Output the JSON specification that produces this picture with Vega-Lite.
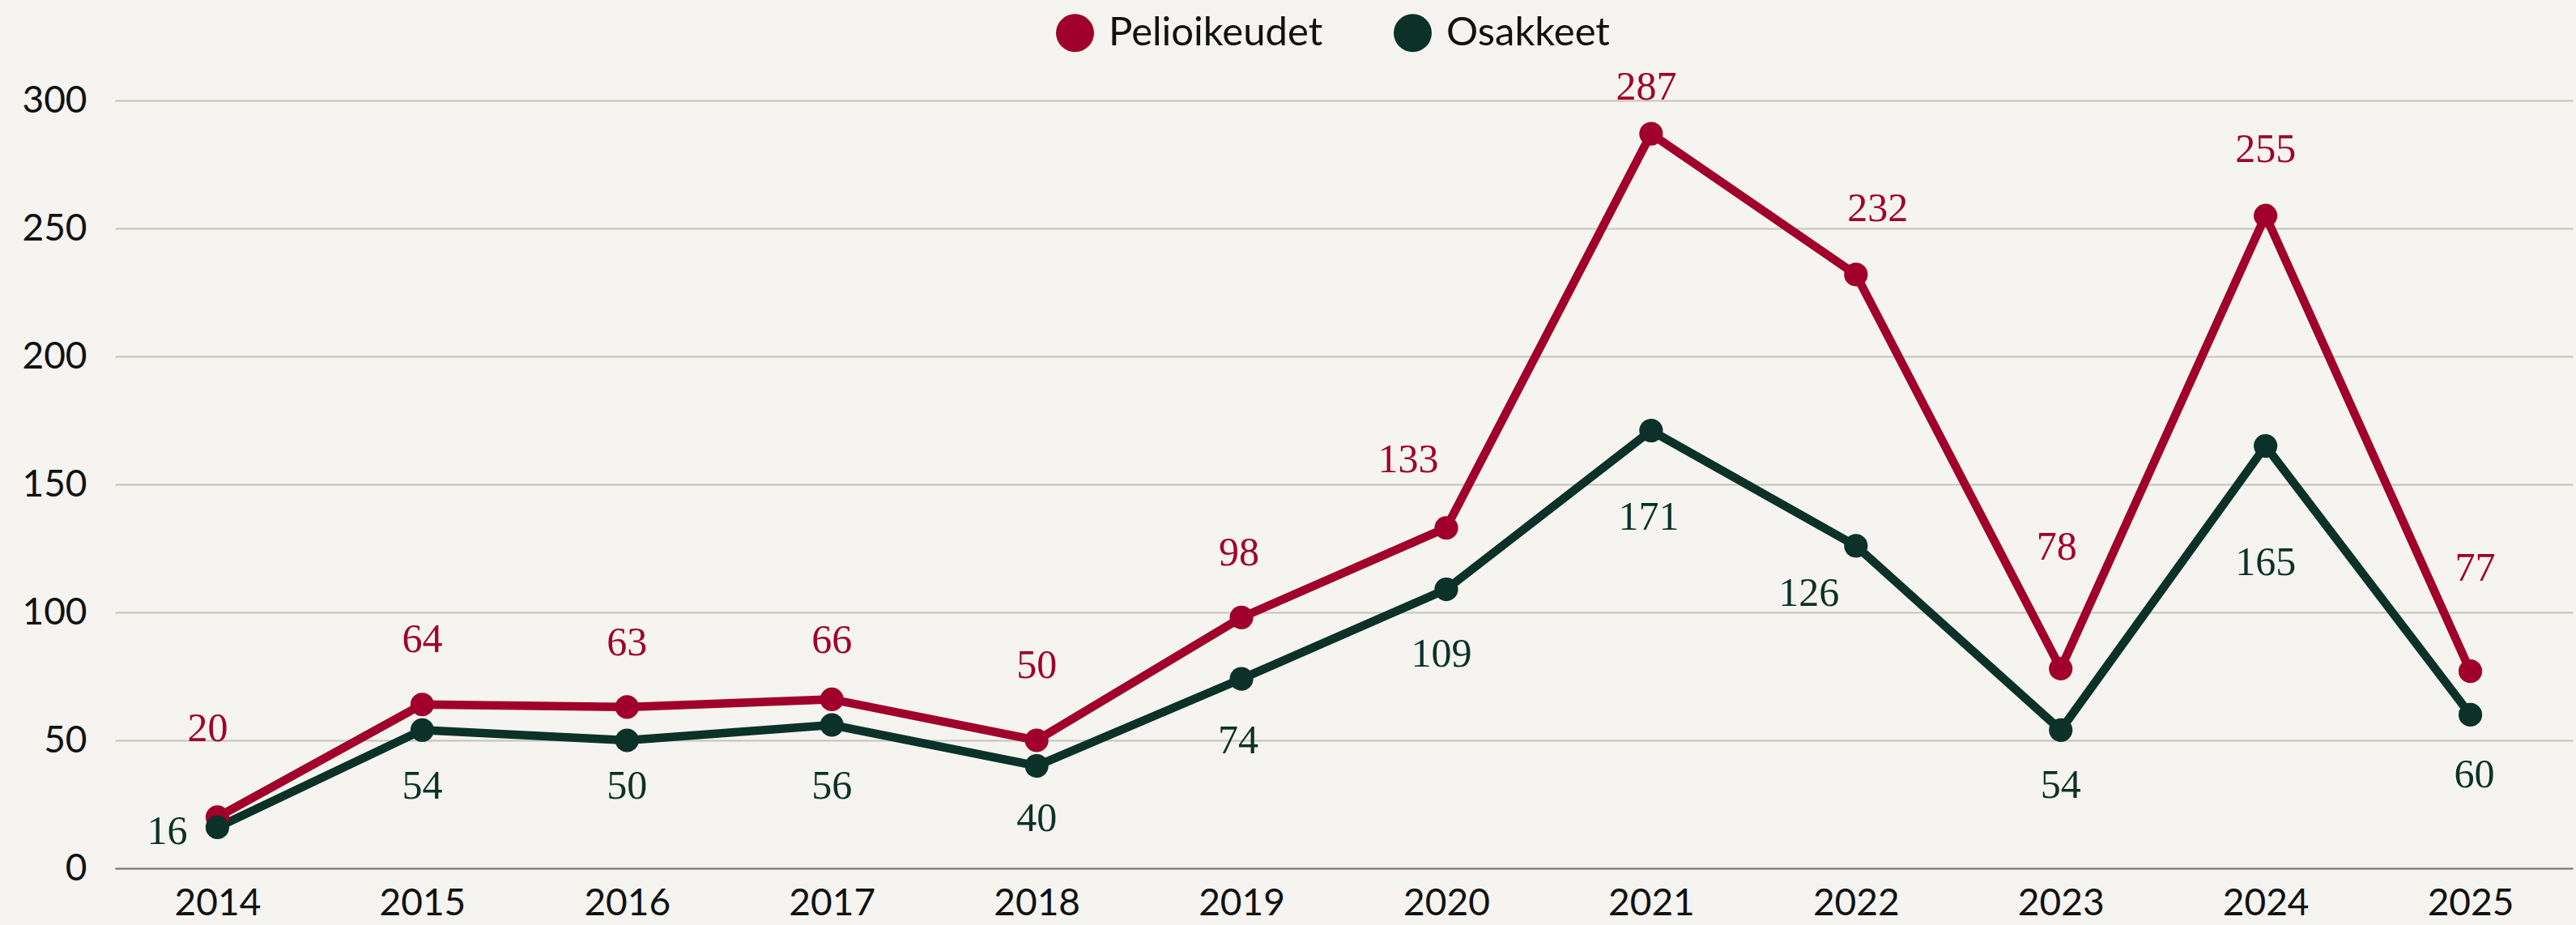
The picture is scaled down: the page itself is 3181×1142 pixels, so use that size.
{
  "$schema": "https://vega.github.io/schema/vega-lite/v6.json",
  "width": 3035,
  "height": 948,
  "autosize": {"type": "none"},
  "padding": {"left": 142, "top": 124, "right": 4, "bottom": 70},
  "background": "#F5F4F0",
  "config": {
    "view": {"stroke": null},
    "legend": {"padding": 0}
  },
  "data": {
    "values": [
      {"year": "2014", "series": "Pelioikeudet", "value": 20},
      {"year": "2015", "series": "Pelioikeudet", "value": 64},
      {"year": "2016", "series": "Pelioikeudet", "value": 63},
      {"year": "2017", "series": "Pelioikeudet", "value": 66},
      {"year": "2018", "series": "Pelioikeudet", "value": 50},
      {"year": "2019", "series": "Pelioikeudet", "value": 98},
      {"year": "2020", "series": "Pelioikeudet", "value": 133},
      {"year": "2021", "series": "Pelioikeudet", "value": 287},
      {"year": "2022", "series": "Pelioikeudet", "value": 232},
      {"year": "2023", "series": "Pelioikeudet", "value": 78},
      {"year": "2024", "series": "Pelioikeudet", "value": 255},
      {"year": "2025", "series": "Pelioikeudet", "value": 77},
      {"year": "2014", "series": "Osakkeet", "value": 16},
      {"year": "2015", "series": "Osakkeet", "value": 54},
      {"year": "2016", "series": "Osakkeet", "value": 50},
      {"year": "2017", "series": "Osakkeet", "value": 56},
      {"year": "2018", "series": "Osakkeet", "value": 40},
      {"year": "2019", "series": "Osakkeet", "value": 74},
      {"year": "2020", "series": "Osakkeet", "value": 109},
      {"year": "2021", "series": "Osakkeet", "value": 171},
      {"year": "2022", "series": "Osakkeet", "value": 126},
      {"year": "2023", "series": "Osakkeet", "value": 54},
      {"year": "2024", "series": "Osakkeet", "value": 165},
      {"year": "2025", "series": "Osakkeet", "value": 60}
    ]
  },
  "encoding": {
    "x": {
      "field": "year",
      "type": "ordinal",
      "scale": {"padding": 0.5},
      "axis": {
        "title": null,
        "labelAngle": 0,
        "ticks": false,
        "grid": false,
        "domain": true,
        "domainColor": "#777777",
        "domainWidth": 2,
        "labelFont": "Lato",
        "labelFontSize": 46,
        "labelColor": "#111111",
        "labelPadding": 21
      }
    },
    "y": {
      "field": "value",
      "type": "quantitative",
      "scale": {"domain": [0, 300], "nice": false},
      "axis": {
        "title": null,
        "values": [0, 50, 100, 150, 200, 250, 300],
        "grid": true,
        "gridColor": "#C4C2BC",
        "gridWidth": 2,
        "domain": false,
        "ticks": false,
        "labelFont": "Lato",
        "labelFontSize": 46,
        "labelColor": "#111111",
        "labelPadding": 35
      }
    },
    "color": {
      "field": "series",
      "type": "nominal",
      "sort": ["Pelioikeudet", "Osakkeet"],
      "scale": {"domain": ["Pelioikeudet", "Osakkeet"], "range": ["#A0002B", "#0C3129"]},
      "legend": {
        "title": null,
        "orient": "none",
        "direction": "horizontal",
        "legendX": 1161,
        "legendY": -108,
        "symbolType": "circle",
        "symbolSize": 2209,
        "symbolStrokeWidth": 0,
        "symbolOpacity": 1,
        "labelFont": "Lato",
        "labelFontSize": 49,
        "labelColor": "#111111",
        "labelOffset": 17,
        "columnPadding": 86,
        "labelLimit": 600
      }
    }
  },
  "layer": [
    {
      "mark": {"type": "line", "strokeWidth": 10.5}
    },
    {
      "mark": {"type": "point", "shape": "circle", "filled": true, "opacity": 1, "size": 850}
    },
    {
      "mark": {
        "type": "text",
        "font": "Liberation Serif",
        "fontSize": 50,
        "baseline": "middle",
        "align": "center",
        "dy": {"expr": "[-109,-80,-79,-72,-92,-79,-84,-57,-81,-150,-81,-127,6,70,57,76,65,77,80,107,59,69,144,75][toNumber(datum.year)-2014+(datum.series=='Osakkeet'?12:0)]"},
        "dx": {"expr": "[-12,0,0,0,0,-3,-47,-6,27,-5,0,6,-62,0,0,0,0,-4,-6,-3,-58,0,0,5][toNumber(datum.year)-2014+(datum.series=='Osakkeet'?12:0)]"}
      },
      "encoding": {
        "text": {"field": "value", "type": "quantitative"}
      }
    }
  ]
}
